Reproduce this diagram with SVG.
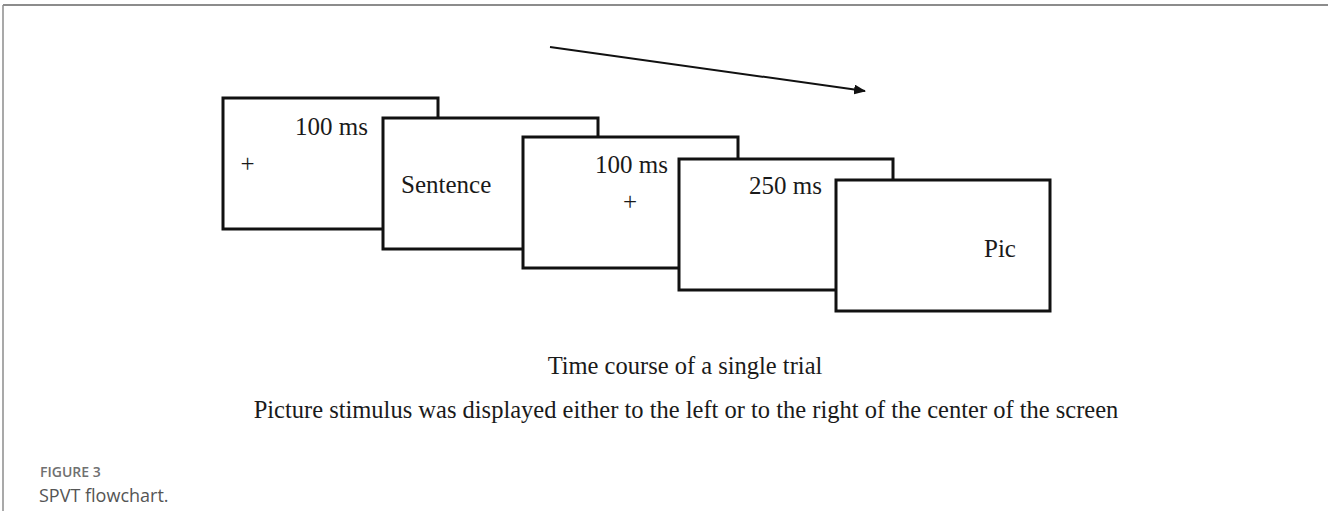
<svg xmlns="http://www.w3.org/2000/svg" width="1328" height="511" viewBox="0 0 1328 511">
<style>
  .frame{fill:#fff;stroke:#111;stroke-width:3}
  .t{font-family:"Liberation Serif","Times New Roman",serif;font-size:25px;fill:#1a1a1a}
  .cap{font-family:"Liberation Serif","Times New Roman",serif;font-size:24.5px;fill:#1a1a1a;text-anchor:middle}
  .border{stroke:#8c8c8c;fill:none}
</style>
<defs>
  <marker id="ah" markerWidth="12" markerHeight="10" refX="11" refY="5" orient="auto" markerUnits="userSpaceOnUse">
    <path d="M0,0 L12,5 L0,10 Z" fill="#111"/>
  </marker>
</defs>
<rect width="1328" height="511" fill="#fff"/>
<line class="border" x1="3" y1="5" x2="1328" y2="5" stroke-width="2"/>
<line class="border" x1="3" y1="5" x2="3" y2="511" stroke-width="1.5"/>

<g id="connectors">
  <line x1="550" y1="47" x2="865" y2="91" stroke="#111" stroke-width="2" marker-end="url(#ah)"/>
</g>

<g id="screen1">
  <rect class="frame" x="223" y="98" width="215" height="131"/>
  <text class="t" x="295" y="135">100 ms</text>
  <text class="t" x="247.5" y="172" text-anchor="middle">+</text>
</g>
<g id="screen2">
  <rect class="frame" x="383" y="118" width="215" height="131"/>
  <text class="t" x="401" y="193">Sentence</text>
</g>
<g id="screen3">
  <rect class="frame" x="523" y="137" width="215" height="131"/>
  <text class="t" x="595" y="173">100 ms</text>
  <text class="t" x="630" y="210" text-anchor="middle">+</text>
</g>
<g id="screen4">
  <rect class="frame" x="679" y="159" width="214" height="131"/>
  <text class="t" x="749" y="194">250 ms</text>
</g>
<g id="screen5">
  <rect class="frame" x="836" y="180" width="214" height="131"/>
  <text class="t" x="984" y="257">Pic</text>
</g>

<text class="cap" x="685" y="374">Time course of a single trial</text>
<text class="cap" x="686" y="418">Picture stimulus was displayed either to the left or to the right of the center of the screen</text>

<text x="40" y="477" font-family="'Open Sans',sans-serif" font-size="14" font-weight="600" fill="#707070">FIGURE 3</text>
<text x="39" y="502" font-family="'Open Sans',sans-serif" font-size="18" fill="#555">SPVT flowchart.</text>
</svg>
